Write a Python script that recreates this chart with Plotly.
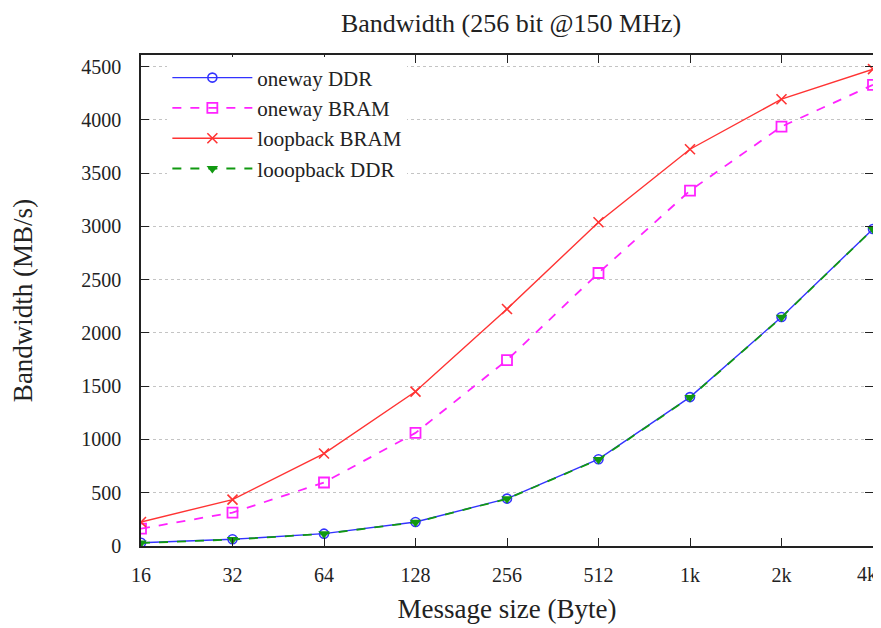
import plotly.graph_objects as go

categories = ["16", "32", "64", "128", "256", "512", "1k", "2k", "4k"]
oneway_ddr = [30, 63, 116, 225, 445, 815, 1398, 2150, 2977]
oneway_bram = [163, 314, 596, 1062, 1745, 2563, 3336, 3938, 4330]
loopback_bram = [225, 436, 868, 1450, 2225, 3040, 3725, 4195, 4477]
looopback_ddr = [28, 61, 114, 223, 443, 812, 1395, 2147, 2975]

FONT = "Liberation Serif"
fig = go.Figure()
fig.add_trace(go.Scatter(x=categories, y=oneway_ddr, name="oneway DDR", mode="lines+markers",
                         line=dict(color="#3333ff", width=1.4),
                         marker=dict(symbol="circle-open", size=9, color="#3333ff", line=dict(width=1.6))))
fig.add_trace(go.Scatter(x=categories, y=oneway_bram, name="oneway BRAM", mode="lines+markers",
                         line=dict(color="#ff22ff", width=1.8, dash="dash"),
                         marker=dict(symbol="square-open", size=10, color="#ff22ff", line=dict(width=1.8))))
fig.add_trace(go.Scatter(x=categories, y=loopback_bram, name="loopback BRAM", mode="lines+markers",
                         line=dict(color="#ff3333", width=1.4),
                         marker=dict(symbol="x-thin-open", size=10, color="#ff3333", line=dict(width=1.6, color="#ff3333"))))
fig.add_trace(go.Scatter(x=categories, y=looopback_ddr, name="looopback DDR", mode="lines+markers",
                         line=dict(color="#119911", width=1.8, dash="dash"),
                         marker=dict(symbol="triangle-down", size=10, color="#119911")))

# page body has an 8px margin, so the figure is drawn 8px right/down
fig.update_layout(
    width=873, height=620,
    margin=dict(l=133, r=8, t=47, b=82),
    paper_bgcolor="white", plot_bgcolor="white",
    font=dict(family=FONT, size=20, color="#222"),
    title=dict(text="Bandwidth (256 bit @150 MHz)", x=503 / 873, xanchor="center",
               yref="container", y=1 - 6 / 620, yanchor="top",
               font=dict(family=FONT, size=26, color="#222")),
    legend=dict(x=0.036, y=0.995, xanchor="left", yanchor="top", bgcolor="white",
                font=dict(family=FONT, size=21, color="#222"), tracegroupgap=0,
                itemwidth=80),
    showlegend=True,
)
# last tick label sits at the right edge: draw it right-aligned so it stays visible
tick_text = categories[:-1] + [""]
fig.add_annotation(text=categories[-1], xref="paper", yref="paper", x=1, y=0,
                   xanchor="right", yanchor="middle", xshift=6, yshift=-28,
                   showarrow=False, font=dict(family=FONT, size=20, color="#222"))
fig.update_xaxes(type="category", range=[0, 8], showline=True, linecolor="#222", linewidth=1.5,
                 tickvals=categories, ticktext=tick_text,
                 mirror="ticks", ticks="inside", ticklen=8, tickcolor="#222", showgrid=False,
                 automargin=False,
                 title=dict(text="Message size (Byte)", font=dict(family=FONT, size=27), standoff=14),
                 ticklabelstandoff=10)
fig.update_yaxes(range=[0, 4610], dtick=500, showline=True, linecolor="#222", linewidth=1.5,
                 mirror="ticks", ticks="inside", ticklen=8, tickcolor="#222",
                 showgrid=True, gridcolor="#c4c4c4", griddash="dot", gridwidth=1,
                 zeroline=False, automargin=False,
                 title=dict(text="Bandwidth (MB/s)", font=dict(family=FONT, size=27), standoff=52),
                 ticklabelstandoff=14)

fig.write_html("out.html")
